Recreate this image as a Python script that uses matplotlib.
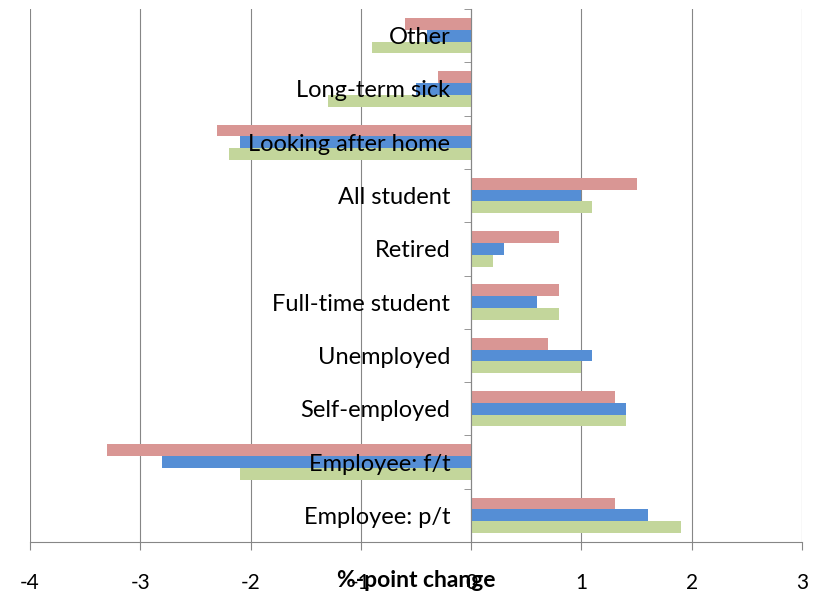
import numpy as np
import matplotlib.pyplot as plt

# categories listed bottom to top
categories = ['Employee: p/t', 'Employee: f/t', 'Self-employed', 'Unemployed',
              'Full-time student', 'Retired', 'All student', 'Looking after home',
              'Long-term sick', 'Other']
red_vals = [1.3, -3.3, 1.3, 0.7, 0.8, 0.8, 1.5, -2.3, -0.3, -0.6]
blue_vals = [1.6, -2.8, 1.4, 1.1, 0.6, 0.3, 1.0, -2.1, -0.5, -0.4]
green_vals = [1.9, -2.1, 1.4, 1.0, 0.8, 0.2, 1.1, -2.2, -1.3, -0.9]
xticks = [-4, -3, -2, -1, 0, 1, 2, 3]

plt.rcParams['font.family'] = ['Lato', 'DejaVu Sans']

fig = plt.figure(figsize=(8.28, 5.95), dpi=100)
ax = fig.add_axes([30 / 828, 1 - 542 / 595, 772 / 828, 533 / 595])

y = np.arange(len(categories))
h = 0.222
ax.barh(y + h, red_vals, height=h, color='#d99694', zorder=1)
ax.barh(y, blue_vals, height=h, color='#558ed5', zorder=1)
ax.barh(y - h, green_vals, height=h, color='#c3d69b', zorder=1)

for xv in xticks:
    ax.axvline(xv, color='#868686', lw=0.8, zorder=0)

ax.set_xlim(-4, 3)
ax.set_ylim(-0.5, len(categories) - 0.5)
ax.set_xticks(xticks)
ax.set_xticklabels([str(v) for v in xticks], fontsize=15)
ax.tick_params(axis='x', direction='out', length=6, color='#868686', pad=16)

ax.spines['left'].set_position(('data', 0))
ax.spines['left'].set_color('#868686')
ax.spines['bottom'].set_color('#868686')
ax.spines['top'].set_visible(False)
ax.spines['right'].set_visible(False)

ax.set_yticks(y)
ax.set_yticklabels(categories, fontsize=17)
ax.tick_params(axis='y', which='major', length=0, pad=15)
ax.set_yticks(np.arange(len(categories) + 1) - 0.5, minor=True)
ax.tick_params(axis='y', which='minor', length=5, color='#868686', direction='out')

ax.set_xlabel('%-point change', fontsize=16.5, fontweight='bold', va='center')
ax.xaxis.set_label_coords(0.5, -0.0713)

fig.savefig('out.png', dpi=100)
